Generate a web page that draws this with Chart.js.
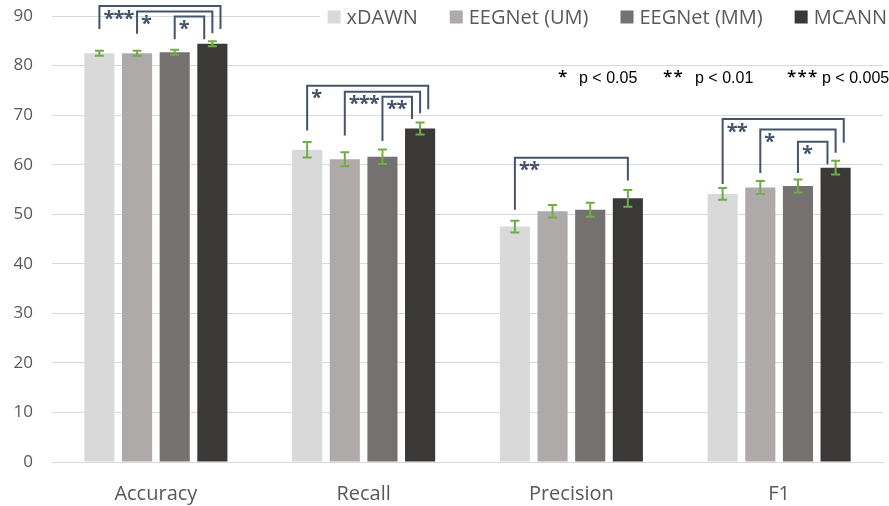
<!DOCTYPE html>
<html>
<head>
<meta charset="utf-8">
<script src="https://cdn.jsdelivr.net/npm/chart.js@4.4.1/dist/chart.umd.min.js"></script>
<style>
  html, body { margin: 0; padding: 0; background: #ffffff; }
  #wrap { width: 889px; height: 506px; position: relative; }
</style>
</head>
<body>
<div id="wrap"><canvas id="chart" width="889" height="506"></canvas></div>
<script>
// Metrics and model series
const categories = ['Accuracy', 'Recall', 'Precision', 'F1'];
const seriesNames = ['xDAWN', 'EEGNet (UM)', 'EEGNet (MM)', 'MCANN'];

const xdawnValues    = [82.5, 63.0, 47.5, 54.1];
const eegnetUMValues = [82.5, 61.1, 50.6, 55.4];
const eegnetMMValues = [82.7, 61.6, 50.9, 55.7];
const mcannValues    = [84.4, 67.3, 53.2, 59.4];

// Standard error per bar
const xdawnErrors    = [0.5, 1.55, 1.2, 1.2];
const eegnetUMErrors = [0.5, 1.4, 1.25, 1.3];
const eegnetMMErrors = [0.5, 1.45, 1.4, 1.3];
const mcannErrors    = [0.5, 1.2, 1.7, 1.4];

const yTickValues = [0, 10, 20, 30, 40, 50, 60, 70, 80, 90];

// Significance brackets: category, the two compared series,
// bracket top and leg ends (in axis units), and number of stars
const bracketCategory = [0, 0, 0, 1, 1, 1, 2, 3, 3, 3];
const bracketFrom     = [0, 1, 2, 0, 1, 2, 0, 0, 1, 2];
const bracketTo       = [3, 3, 3, 3, 3, 3, 3, 3, 3, 3];
const bracketTop      = [92.0, 90.9, 89.9, 75.9, 74.7, 73.7, 61.4, 69.2, 67.1, 64.6];
const bracketFromEnd  = [87.4, 86.4, 85.3, 66.9, 65.9, 64.8, 50.9, 56.1, 58.3, 58.3];
const bracketToEnd    = [87.4, 86.5, 85.3, 71.2, 70.4, 69.2, 56.8, 64.4, 62.4, 60.1];
const bracketStars    = [3, 1, 1, 1, 3, 2, 2, 2, 1, 1];

// p-value key
const pKeyStars  = [1, 2, 3];
const pKeyLabels = ['p < 0.05', 'p < 0.01', 'p < 0.005'];

const seriesValues = [xdawnValues, eegnetUMValues, eegnetMMValues, mcannValues];
const seriesErrors = [xdawnErrors, eegnetUMErrors, eegnetMMErrors, mcannErrors];
const seriesColors = ['#d9d9d9', '#aeaaaa', '#767171', '#3b3838'];

const TEXT_GREY = '#595959';
const BRACKET_COLOR = '#44546a';
const ERROR_COLOR = '#70ad47';
const UI_FONT = '"Open Sans", "Noto Sans", sans-serif';

// Draws n asterisks, vertically centred on cy, starting at left edge x
function drawStars(ctx, n, x, cy, step, font, color) {
  ctx.save();
  ctx.font = font;
  ctx.fillStyle = color;
  ctx.textAlign = 'left';
  ctx.textBaseline = 'alphabetic';
  const m = ctx.measureText('*');
  const glyphH = m.actualBoundingBoxAscent + m.actualBoundingBoxDescent;
  const baseY = cy + glyphH / 2 - m.actualBoundingBoxDescent;
  const left = m.actualBoundingBoxLeft || 0;
  for (let i = 0; i < n; i++) {
    ctx.fillText('*', x + i * step + left, baseY);
  }
  ctx.restore();
}

const errorBarPlugin = {
  id: 'errorBars',
  afterDatasetsDraw(chart) {
    const ctx = chart.ctx;
    const y = chart.scales.y;
    ctx.save();
    ctx.strokeStyle = ERROR_COLOR;
    ctx.lineWidth = 2;
    chart.data.datasets.forEach((ds, di) => {
      const meta = chart.getDatasetMeta(di);
      meta.data.forEach((bar, i) => {
        const v = ds.data[i];
        const e = seriesErrors[di][i];
        const yTop = y.getPixelForValue(v + e);
        const yBot = y.getPixelForValue(v - e);
        const cap = 4.5;
        ctx.beginPath();
        ctx.moveTo(bar.x, yTop); ctx.lineTo(bar.x, yBot);
        ctx.moveTo(bar.x - cap, yTop); ctx.lineTo(bar.x + cap, yTop);
        ctx.moveTo(bar.x - cap, yBot); ctx.lineTo(bar.x + cap, yBot);
        ctx.stroke();
      });
    });
    ctx.restore();
  }
};

const bracketPlugin = {
  id: 'brackets',
  afterDatasetsDraw(chart) {
    const ctx = chart.ctx;
    const y = chart.scales.y;
    const starFont = '700 20px ' + UI_FONT;
    ctx.save();
    ctx.strokeStyle = BRACKET_COLOR;
    ctx.lineWidth = 2;
    ctx.lineJoin = 'miter';
    bracketCategory.forEach((cat, k) => {
      const fromBar = chart.getDatasetMeta(bracketFrom[k]).data[cat];
      const toBar = chart.getDatasetMeta(bracketTo[k]).data[cat];
      // legs sharing the same right-hand bar are fanned out, outermost to the right
      const siblings = [];
      bracketCategory.forEach((c2, j) => {
        if (c2 === cat && bracketTo[j] === bracketTo[k]) siblings.push(j);
      });
      siblings.sort((a, b) => bracketTop[a] - bracketTop[b]);
      const rank = siblings.indexOf(k);
      const spread = fromBar.width * 0.27;
      const xr = toBar.x + (rank - (siblings.length - 1) / 2) * spread;
      const xl = fromBar.x;
      const yTop = y.getPixelForValue(bracketTop[k]);
      ctx.beginPath();
      ctx.moveTo(xl, y.getPixelForValue(bracketFromEnd[k]));
      ctx.lineTo(xl, yTop);
      ctx.lineTo(xr, yTop);
      ctx.lineTo(xr, y.getPixelForValue(bracketToEnd[k]));
      ctx.stroke();
      drawStars(ctx, bracketStars[k], xl + 4, yTop + 8.5, 10, starFont, BRACKET_COLOR);
    });
    ctx.restore();
  }
};

const legendPlugin = {
  id: 'customLegend',
  afterDraw(chart) {
    const ctx = chart.ctx;
    ctx.save();
    ctx.font = '20px ' + UI_FONT;
    const box = 13, gapText = 6, gapItem = 32;
    const widths = seriesNames.map(n => ctx.measureText(n).width);
    const total = widths.reduce((a, b) => a + b, 0) + seriesNames.length * (box + gapText) + gapItem * (seriesNames.length - 1);
    let x = 887 - total;
    const cy = 17;
    ctx.fillStyle = '#ffffff';
    ctx.fillRect(x - 8, cy - 12, total + 12, 24);
    ctx.textBaseline = 'middle';
    ctx.textAlign = 'left';
    seriesNames.forEach((n, i) => {
      ctx.fillStyle = seriesColors[i];
      ctx.fillRect(x, cy - box / 2, box, box);
      x += box + gapText;
      ctx.fillStyle = TEXT_GREY;
      ctx.fillText(n, x, cy + 1);
      x += widths[i] + gapItem;
    });

    // significance key
    const keyFont = '16px "Liberation Sans", Arial, sans-serif';
    const keyStarFont = '600 17px ' + UI_FONT;
    const starLeft = [558, 663, 787];
    const textLeft = [579, 695, 822];
    pKeyLabels.forEach((label, i) => {
      drawStars(ctx, pKeyStars[i], starLeft[i], 74, 10.5, keyStarFont, '#000000');
      ctx.font = keyFont;
      ctx.fillStyle = '#000000';
      ctx.textBaseline = 'alphabetic';
      ctx.textAlign = 'left';
      ctx.fillText(label, textLeft[i], 83);
    });
    ctx.restore();
  }
};

new Chart(document.getElementById('chart'), {
  type: 'bar',
  data: {
    labels: categories,
    datasets: seriesNames.map((name, i) => ({
      label: name,
      data: seriesValues[i],
      backgroundColor: seriesColors[i],
      borderWidth: 0,
      categoryPercentage: 0.725,
      barPercentage: 0.8
    }))
  },
  options: {
    responsive: false,
    animation: false,
    devicePixelRatio: 1,
    layout: { padding: { top: 16, right: 6, left: 0, bottom: 0 } },
    plugins: { legend: { display: false }, tooltip: { enabled: false } },
    scales: {
      x: {
        grid: { display: false },
        border: { display: true, color: '#d9d9d9', width: 1 },
        ticks: { font: { family: UI_FONT, size: 20 }, color: TEXT_GREY, padding: 12 },
        afterFit(scale) { scale.height = 44; }
      },
      y: {
        min: 0,
        max: 90,
        afterBuildTicks(scale) { scale.ticks = yTickValues.map(v => ({ value: v })); },
        grid: { color: '#d9d9d9', lineWidth: 1, drawTicks: false },
        border: { display: false },
        ticks: { font: { family: UI_FONT, size: 17 }, color: TEXT_GREY, padding: 19 },
        afterFit(scale) {
          scale.width = 52;
          scale.paddingTop = 0;
          scale.paddingBottom = 0;
        }
      }
    }
  },
  plugins: [errorBarPlugin, bracketPlugin, legendPlugin]
});
</script>
</body>
</html>
